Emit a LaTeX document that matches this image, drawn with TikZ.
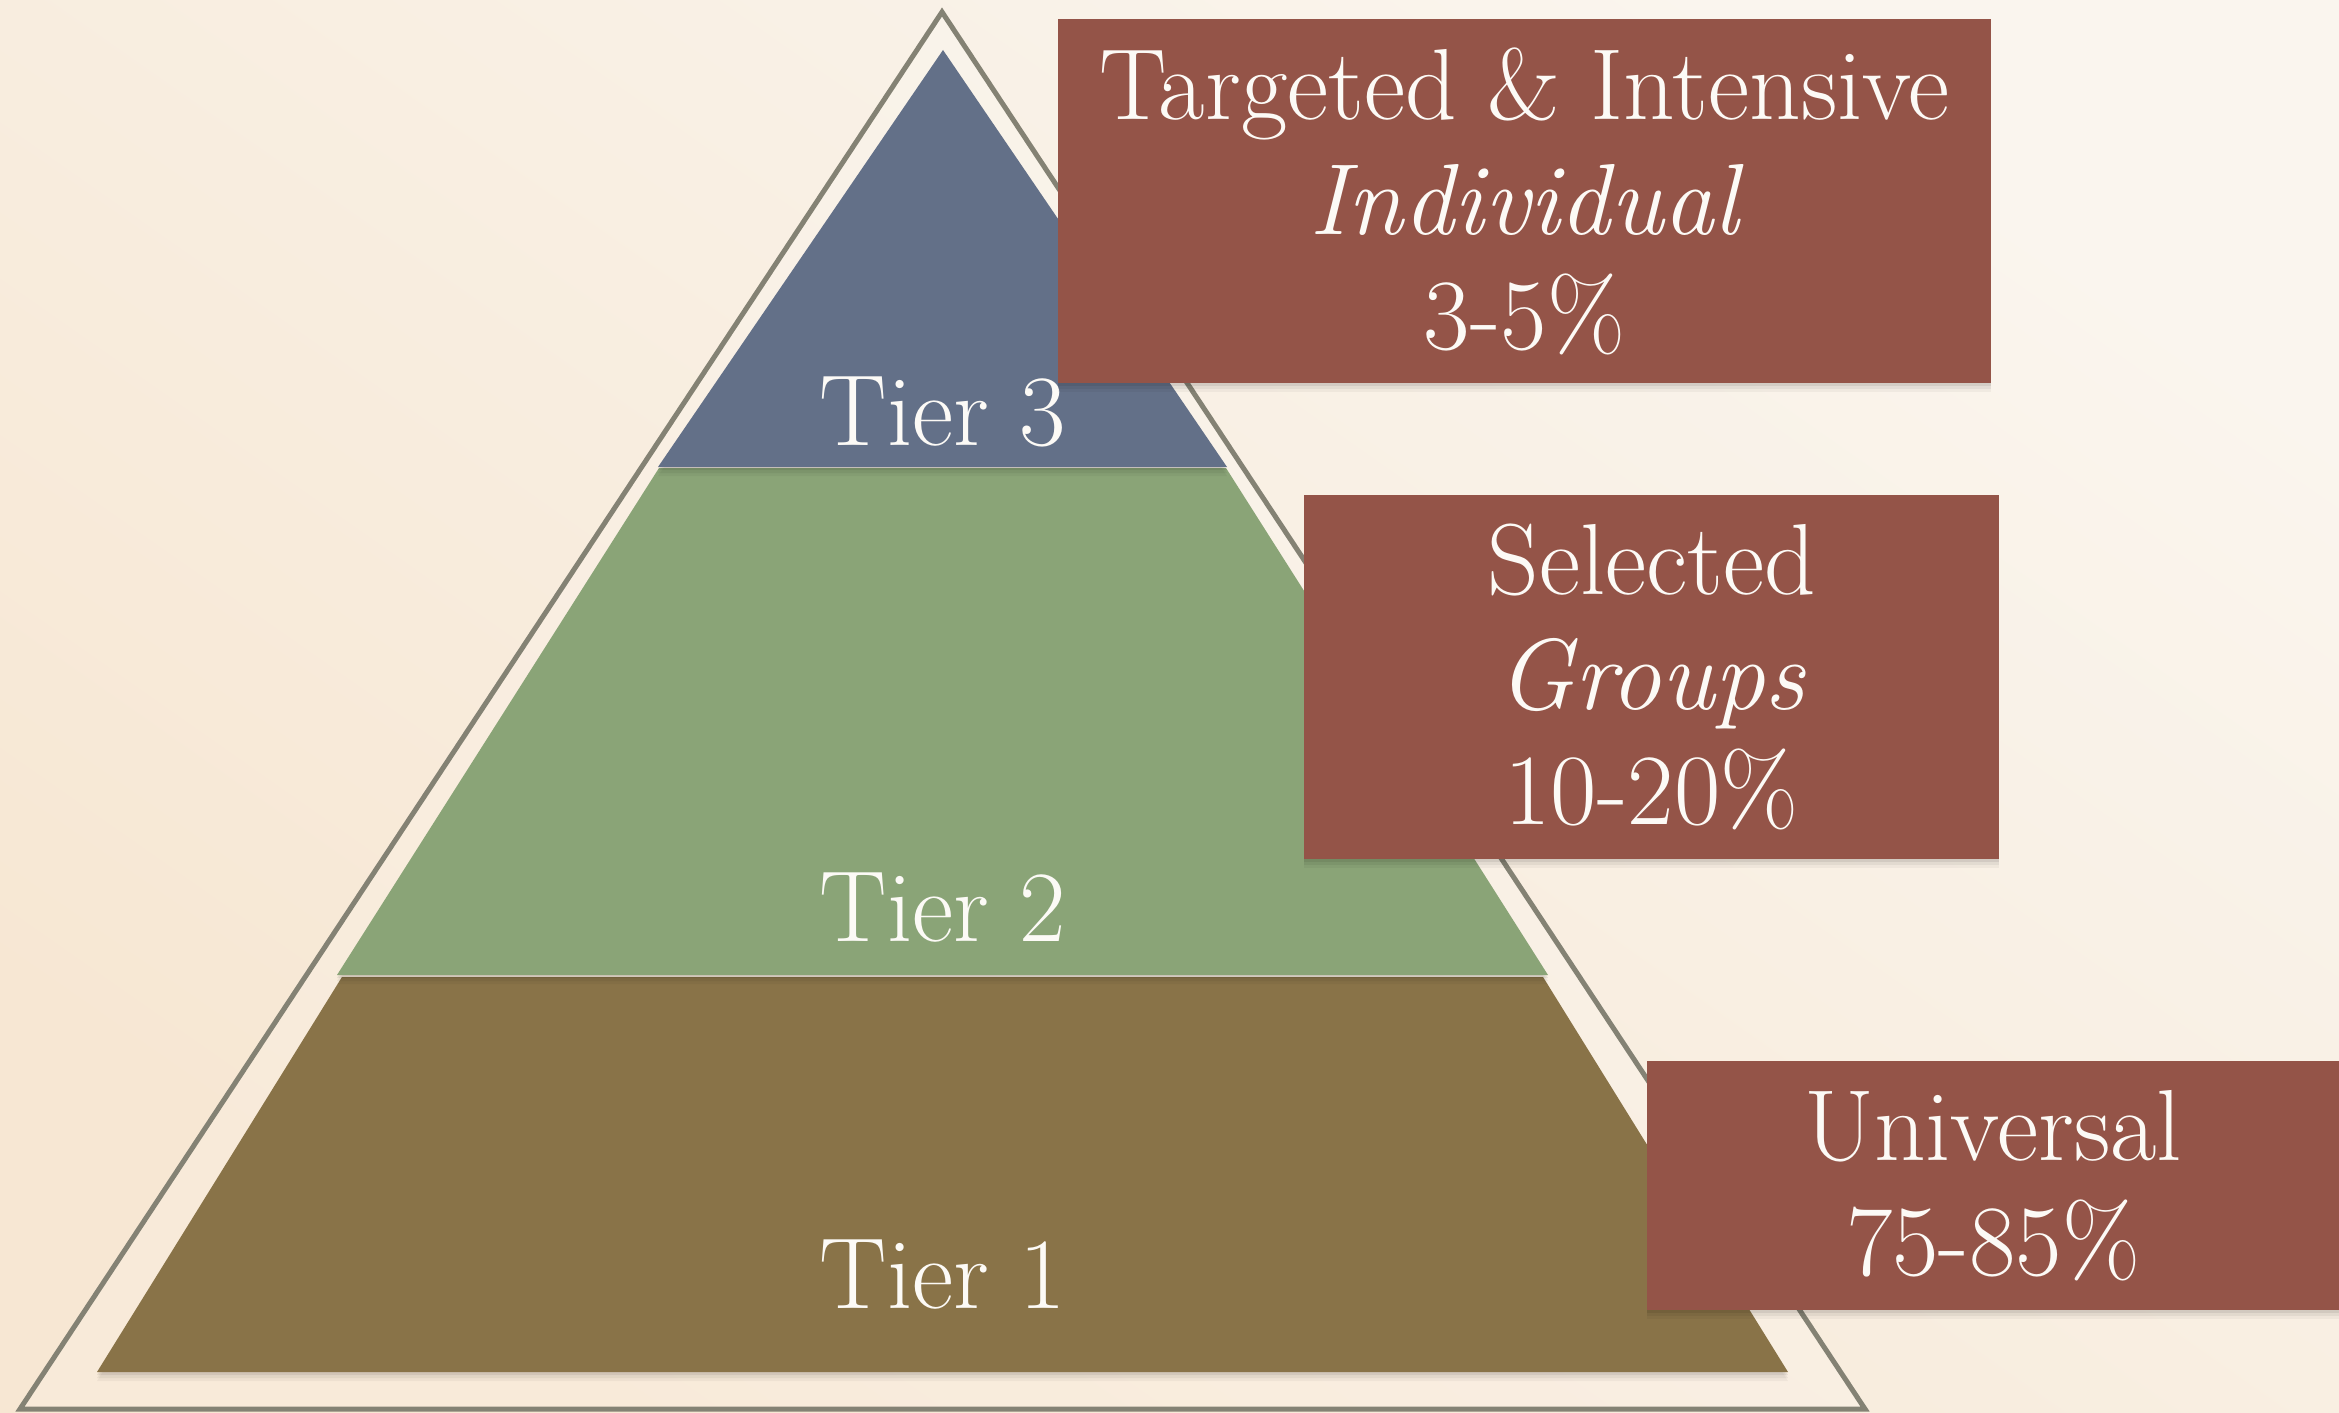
\documentclass[tikz,border=0pt]{standalone}
\usetikzlibrary{shadows}
\definecolor{bgwarm}{RGB}{247,231,211}
\definecolor{bglight}{RGB}{250,245,238}
\definecolor{tierthreecol}{RGB}{99,112,136}
\definecolor{tiertwocol}{RGB}{138,164,119}
\definecolor{tieronecol}{RGB}{137,115,72}
\definecolor{boxred}{RGB}{148,84,72}
\definecolor{framecol}{RGB}{132,130,116}
\definecolor{txtcol}{RGB}{252,250,246}
\begin{document}
\begin{tikzpicture}[x=1pt,y=-1pt,
  softshadow/.style={
    drop shadow={shadow xshift=0pt,shadow yshift=-3pt,opacity=0.07,fill=black},
    drop shadow={shadow xshift=0pt,shadow yshift=-6pt,opacity=0.05,fill=black},
    drop shadow={shadow xshift=0pt,shadow yshift=-9pt,opacity=0.04,fill=black}},
  bigtext/.style={text=txtcol,font=\fontsize{101}{115}\selectfont},
  tierlabel/.style={bigtext,anchor=base,inner sep=0pt},
  infobox/.style={bigtext,fill=boxred,align=center,inner sep=0pt,softshadow},
]
% background
\useasboundingbox (0,0) rectangle (2339,1413);
\shade[shading=axis,top color=bglight,bottom color=bgwarm,shading angle=-35]
  (0,0) rectangle (2339,1413);
% outer frame triangle
\draw[framecol,line width=5pt,fill=white,fill opacity=0.15]
  (942,12) -- (1865,1409) -- (20,1409) -- cycle;
% tier layers
\fill[tieronecol,softshadow] (342,977) -- (1543,977) -- (1788,1372) -- (97,1372) -- cycle;
\fill[tiertwocol,softshadow] (659,468) -- (1226,468) -- (1548,975) -- (337,975) -- cycle;
\fill[tierthreecol,softshadow] (943,50) -- (1227,467) -- (658,467) -- cycle;
% tier labels
\node[tierlabel] (tthree) at (943,445) {Tier 3};
\node[tierlabel] (ttwo) at (943,941) {Tier 2};
\node[tierlabel] (tone) at (943,1308) {Tier 1};
% info boxes
\node[infobox,minimum width=933pt,minimum height=364pt] (boxthree) at (1524.5,201)
  {Targeted \& Intensive\\ \itshape Individual\\ 3-5\%};
\node[infobox,minimum width=695pt,minimum height=364pt] (boxtwo) at (1651.5,677)
  {Selected\\ \itshape Groups\\ 10-20\%};
\node[infobox,minimum width=692pt,minimum height=249pt] (boxone) at (1993,1185.5)
  {Universal\\ 75-85\%};
\end{tikzpicture}
\end{document}
